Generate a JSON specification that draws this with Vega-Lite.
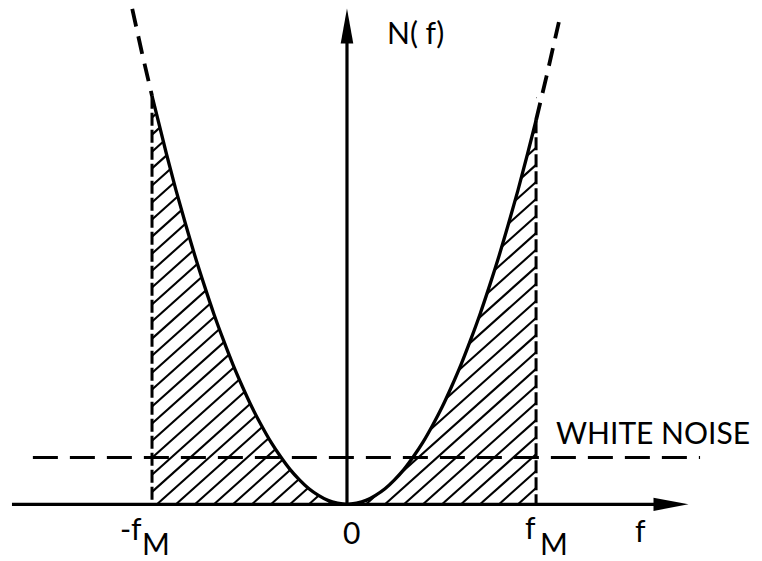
{
  "$schema": "https://vega.github.io/schema/vega-lite/v6.json",
  "width": 762,
  "height": 561,
  "autosize": {"type": "fit", "contains": "padding"},
  "padding": 0,
  "background": "white",
  "config": {"view": {"stroke": null}},
  "datasets": {
    "curve": [
      {"x": -1.026, "y": 1.053}, {"x": -0.95, "y": 0.903}, {"x": -0.9, "y": 0.81},
      {"x": -0.85, "y": 0.723}, {"x": -0.8, "y": 0.64}, {"x": -0.75, "y": 0.563},
      {"x": -0.7, "y": 0.49}, {"x": -0.65, "y": 0.423}, {"x": -0.6, "y": 0.36},
      {"x": -0.55, "y": 0.303}, {"x": -0.5, "y": 0.25}, {"x": -0.45, "y": 0.203},
      {"x": -0.4, "y": 0.16}, {"x": -0.35, "y": 0.123}, {"x": -0.3, "y": 0.09},
      {"x": -0.25, "y": 0.063}, {"x": -0.2, "y": 0.04}, {"x": -0.15, "y": 0.023},
      {"x": -0.1, "y": 0.01}, {"x": -0.05, "y": 0.003}, {"x": 0, "y": 0},
      {"x": 0.05, "y": 0.003}, {"x": 0.1, "y": 0.01}, {"x": 0.15, "y": 0.023},
      {"x": 0.2, "y": 0.04}, {"x": 0.25, "y": 0.063}, {"x": 0.3, "y": 0.09},
      {"x": 0.35, "y": 0.123}, {"x": 0.4, "y": 0.16}, {"x": 0.45, "y": 0.203},
      {"x": 0.5, "y": 0.25}, {"x": 0.55, "y": 0.303}, {"x": 0.6, "y": 0.36},
      {"x": 0.65, "y": 0.423}, {"x": 0.7, "y": 0.49}, {"x": 0.75, "y": 0.563},
      {"x": 0.8, "y": 0.64}, {"x": 0.85, "y": 0.723}, {"x": 0.9, "y": 0.81},
      {"x": 0.95, "y": 0.903}, {"x": 0.995, "y": 0.99}
    ],
    "extension": [
      {"side": "left", "x": -1.13, "y": 1.277}, {"side": "left", "x": -1.08, "y": 1.166}, {"side": "left", "x": -1.026, "y": 1.053},
      {"side": "right", "x": 0.995, "y": 0.99}, {"side": "right", "x": 1.05, "y": 1.103}, {"side": "right", "x": 1.115, "y": 1.243}
    ],
    "hatch": [
      {"x": -1.026, "y": 1.041, "x2": -0.983, "y2": 1.06},
      {"x": -1.026, "y": 0.997, "x2": -0.883, "y2": 1.06},
      {"x": -1.026, "y": 0.953, "x2": -0.783, "y2": 1.06},
      {"x": -1.026, "y": 0.909, "x2": -0.683, "y2": 1.06},
      {"x": -1.026, "y": 0.866, "x2": -0.583, "y2": 1.06},
      {"x": -1.026, "y": 0.822, "x2": -0.483, "y2": 1.06},
      {"x": -1.026, "y": 0.778, "x2": -0.383, "y2": 1.06},
      {"x": -1.026, "y": 0.734, "x2": -0.283, "y2": 1.06},
      {"x": -1.026, "y": 0.69, "x2": -0.183, "y2": 1.06},
      {"x": -1.026, "y": 0.646, "x2": -0.083, "y2": 1.06},
      {"x": -1.026, "y": 0.602, "x2": 0.017, "y2": 1.06},
      {"x": -1.026, "y": 0.559, "x2": 0.117, "y2": 1.06},
      {"x": -1.026, "y": 0.515, "x2": 0.217, "y2": 1.06},
      {"x": -1.026, "y": 0.471, "x2": 0.317, "y2": 1.06},
      {"x": -1.026, "y": 0.427, "x2": 0.417, "y2": 1.06},
      {"x": -1.026, "y": 0.383, "x2": 0.517, "y2": 1.06},
      {"x": -1.026, "y": 0.339, "x2": 0.617, "y2": 1.06},
      {"x": -1.026, "y": 0.296, "x2": 0.717, "y2": 1.06},
      {"x": -1.026, "y": 0.252, "x2": 0.817, "y2": 1.06},
      {"x": -1.026, "y": 0.208, "x2": 0.917, "y2": 1.06},
      {"x": -1.026, "y": 0.164, "x2": 0.995, "y2": 1.05},
      {"x": -1.026, "y": 0.12, "x2": 0.995, "y2": 1.006},
      {"x": -1.026, "y": 0.076, "x2": 0.995, "y2": 0.963},
      {"x": -1.026, "y": 0.032, "x2": 0.995, "y2": 0.919},
      {"x": -1.0, "y": 0, "x2": 0.995, "y2": 0.875},
      {"x": -0.9, "y": 0, "x2": 0.995, "y2": 0.831},
      {"x": -0.8, "y": 0, "x2": 0.995, "y2": 0.787},
      {"x": -0.7, "y": 0, "x2": 0.995, "y2": 0.743},
      {"x": -0.6, "y": 0, "x2": 0.995, "y2": 0.699},
      {"x": -0.5, "y": 0, "x2": 0.995, "y2": 0.656},
      {"x": -0.4, "y": 0, "x2": 0.995, "y2": 0.612},
      {"x": -0.3, "y": 0, "x2": 0.995, "y2": 0.568},
      {"x": -0.2, "y": 0, "x2": 0.995, "y2": 0.524},
      {"x": -0.1, "y": 0, "x2": 0.995, "y2": 0.48},
      {"x": 0.0, "y": 0, "x2": 0.995, "y2": 0.436},
      {"x": 0.1, "y": 0, "x2": 0.995, "y2": 0.392},
      {"x": 0.2, "y": 0, "x2": 0.995, "y2": 0.349},
      {"x": 0.3, "y": 0, "x2": 0.995, "y2": 0.305},
      {"x": 0.4, "y": 0, "x2": 0.995, "y2": 0.261},
      {"x": 0.5, "y": 0, "x2": 0.995, "y2": 0.217},
      {"x": 0.6, "y": 0, "x2": 0.995, "y2": 0.173},
      {"x": 0.7, "y": 0, "x2": 0.995, "y2": 0.129},
      {"x": 0.8, "y": 0, "x2": 0.995, "y2": 0.086},
      {"x": 0.9, "y": 0, "x2": 0.995, "y2": 0.042}
    ],
    "bounds": [
      {"x": -1.026, "y": 1.053},
      {"x": 0.995, "y": 0.99}
    ],
    "noise": [
      {"x": -1.653, "x2": 1.858, "y": 0.1205}
    ],
    "axes": [
      {"x": -1.763, "y": 0, "x2": 1.7, "y2": 0},
      {"x": 0, "y": 0, "x2": 0, "y2": 1.233}
    ],
    "arrows": [
      {"dir": "right", "x": 1.705, "y": 0},
      {"dir": "up", "x": 0, "y": 1.233}
    ],
    "labels": [
      {"x": -1.195, "y": -0.0923, "label": "-f"},
      {"x": -1.079, "y": -0.1308, "label": "M"},
      {"x": -0.021, "y": -0.1026, "label": "0"},
      {"x": 0.937, "y": -0.0897, "label": "f"},
      {"x": 1.016, "y": -0.1308, "label": "M"},
      {"x": 1.516, "y": -0.0974, "label": "f"},
      {"x": 0.2105, "y": 1.187, "label": "N( f)"},
      {"x": 1.1, "y": 0.156, "label": "WHITE NOISE"}
    ]
  },
  "encoding": {
    "x": {"field": "x", "type": "quantitative", "axis": null,
          "scale": {"domain": [-1.826, 2.184], "nice": false, "zero": false}},
    "y": {"field": "y", "type": "quantitative", "axis": null,
          "scale": {"domain": [-0.1385, 1.3], "nice": false, "zero": false}}
  },
  "layer": [
    {
      "data": {"name": "hatch"},
      "mark": {"type": "rule", "color": "black", "strokeWidth": 2.1},
      "encoding": {"x2": {"field": "x2"}, "y2": {"field": "y2"}}
    },
    {
      "data": {"name": "curve"},
      "mark": {"type": "area", "color": "white", "opacity": 1, "interpolate": "monotone"},
      "encoding": {"y2": {"datum": 1.12}}
    },
    {
      "data": {"name": "curve"},
      "mark": {"type": "line", "color": "black", "strokeWidth": 3.3, "interpolate": "monotone"}
    },
    {
      "data": {"name": "extension"},
      "mark": {"type": "line", "color": "black", "strokeWidth": 3.8, "strokeDash": [18, 10]},
      "encoding": {"detail": {"field": "side", "type": "nominal"}}
    },
    {
      "data": {"name": "bounds"},
      "mark": {"type": "rule", "color": "black", "strokeWidth": 3, "strokeDash": [13, 4]},
      "encoding": {"y2": {"datum": 0}}
    },
    {
      "data": {"name": "noise"},
      "mark": {"type": "rule", "color": "black", "strokeWidth": 3, "strokeDash": [25, 12]},
      "encoding": {"x2": {"field": "x2"}}
    },
    {
      "data": {"name": "axes"},
      "mark": {"type": "rule", "color": "black", "strokeWidth": 3.2},
      "encoding": {"x2": {"field": "x2"}, "y2": {"field": "y2"}}
    },
    {
      "data": {"name": "arrows"},
      "mark": {"type": "point", "filled": true, "color": "black", "opacity": 1, "size": 1225},
      "encoding": {
        "shape": {"field": "dir", "type": "nominal", "legend": null,
                  "scale": {"domain": ["up", "right"],
                            "range": ["M0,-1L0.36,1L-0.36,1Z", "M1,0L-1,-0.38L-1,0.38Z"]}}
      }
    },
    {
      "data": {"name": "labels"},
      "mark": {"type": "text", "align": "left", "baseline": "alphabetic", "font": "Lato", "fontSize": 30, "color": "black"},
      "encoding": {"text": {"field": "label", "type": "nominal"}}
    }
  ]
}
